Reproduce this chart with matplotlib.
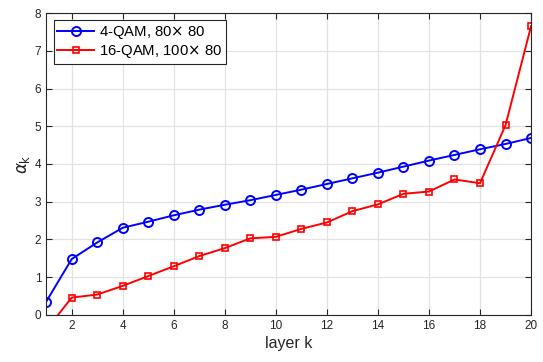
import matplotlib
matplotlib.use("Agg")
import matplotlib.pyplot as plt

plt.rcParams['font.family'] = ['Liberation Sans', 'DejaVu Sans']
plt.rcParams['mathtext.fontset'] = 'dejavusans'

layers = list(range(1, 21))
alpha_4qam = [0.35, 1.48, 1.92, 2.31, 2.47, 2.64, 2.79, 2.92, 3.04, 3.18,
              3.32, 3.47, 3.62, 3.77, 3.93, 4.09, 4.24, 4.39, 4.53, 4.69]
alpha_16qam = [-0.40, 0.46, 0.54, 0.77, 1.03, 1.29, 1.56, 1.77, 2.03, 2.07,
               2.28, 2.45, 2.75, 2.93, 3.21, 3.27, 3.59, 3.49, 5.03, 7.65]

fig = plt.figure(figsize=(5.43, 3.62), dpi=100)
ax = fig.add_axes([0.085, 0.13, 0.893, 0.834])

ax.plot(layers, alpha_4qam, color='#0000ff', lw=1.4, marker='o', ms=6.5,
        mfc='none', mew=1.4, label=r'4-QAM, 80$\times$ 80')
ax.plot(layers, alpha_16qam, color='#ff0000', lw=1.4, marker='s', ms=5,
        mfc='none', mew=1.2, label=r'16-QAM, 100$\times$ 80')

ax.set_xlim(1, 20)
ax.set_ylim(0, 8)
ax.set_xticks(range(2, 21, 2))
ax.set_yticks(range(0, 9))
ax.grid(True, color='#e3e3e3', lw=0.9)
ax.set_axisbelow(True)
ax.tick_params(direction='in', top=True, right=True, labelsize=8.5,
               colors='#262626', length=4, width=0.8)
for s in ax.spines.values():
    s.set_color('#262626')
    s.set_linewidth(0.8)

ax.set_xlabel('layer k', fontsize=11.5, color='#262626', labelpad=3)
ax.set_ylabel(r'$\alpha_{\mathrm{k}}$', fontsize=12, color='#262626', labelpad=2)

leg = ax.legend(loc='upper left', fontsize=10.7, fancybox=False, framealpha=1,
                edgecolor='#262626', handlelength=2.5, borderpad=0.25,
                labelspacing=0.15, handletextpad=0.3, borderaxespad=0.5)
leg.get_frame().set_linewidth(0.8)

fig.savefig('out.png', dpi=100)
